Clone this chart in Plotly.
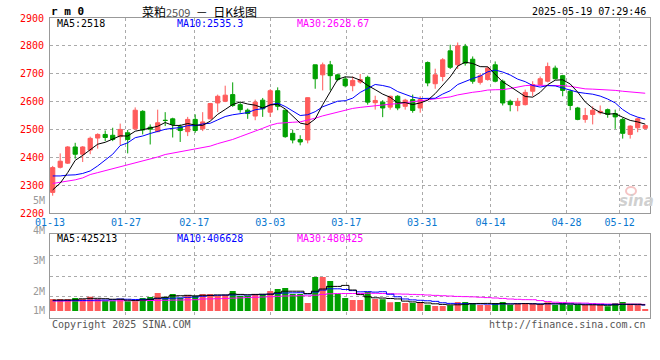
import plotly.graph_objects as go
import pandas as pd

# ---------------- data ----------------
tick_labels = ["01-13", "01-27", "02-17", "03-03", "03-17", "03-31", "04-14", "04-28", "05-12"]
tick_index = [0, 10, 19, 29, 39, 49, 58, 68, 75]

opens = [2274, 2364, 2379, 2437, 2411, 2426, 2469, 2482, 2479, 2474,
         2488, 2502, 2565, 2508, 2492, 2533, 2538, 2510, 2492, 2536,
         2502, 2538, 2595, 2601, 2625, 2589, 2569, 2548, 2605, 2562,
         2639, 2569, 2486, 2464, 2462, 2732, 2696, 2732, 2696, 2681,
         2657, 2670, 2687, 2596, 2598, 2580, 2619, 2583, 2607, 2577,
         2740, 2664, 2690, 2782, 2732, 2798, 2752, 2669, 2679, 2732,
         2673, 2601, 2586, 2589, 2637, 2661, 2673, 2720, 2693, 2637,
         2577, 2536, 2554, 2560, 2571, 2557, 2536, 2482, 2506, 2504]
closes = [2363, 2386, 2437, 2411, 2437, 2468, 2482, 2471, 2464, 2500,
          2464, 2569, 2498, 2501, 2524, 2532, 2518, 2496, 2536, 2496,
          2527, 2593, 2619, 2623, 2586, 2571, 2557, 2598, 2574, 2639,
          2583, 2474, 2462, 2455, 2614, 2682, 2732, 2693, 2679, 2657,
          2676, 2679, 2598, 2604, 2577, 2619, 2577, 2605, 2568, 2607,
          2667, 2696, 2750, 2723, 2800, 2738, 2673, 2693, 2720, 2673,
          2595, 2589, 2601, 2633, 2661, 2682, 2726, 2682, 2640, 2586,
          2536, 2550, 2569, 2565, 2554, 2545, 2486, 2512, 2538, 2514]
highs = [2369, 2414, 2440, 2452, 2440, 2474, 2486, 2496, 2506, 2521,
         2498, 2579, 2569, 2518, 2571, 2562, 2542, 2518, 2545, 2554,
         2562, 2595, 2625, 2657, 2669, 2598, 2575, 2607, 2613, 2645,
         2651, 2571, 2498, 2479, 2615, 2732, 2740, 2746, 2700, 2690,
         2690, 2699, 2693, 2621, 2605, 2621, 2623, 2610, 2625, 2619,
         2744, 2718, 2756, 2804, 2812, 2807, 2762, 2702, 2726, 2744,
         2679, 2607, 2613, 2643, 2673, 2690, 2740, 2729, 2696, 2643,
         2581, 2577, 2583, 2586, 2575, 2571, 2542, 2515, 2542, 2518]
lows = [2262, 2360, 2376, 2395, 2383, 2411, 2431, 2458, 2458, 2443,
        2414, 2500, 2482, 2446, 2490, 2512, 2471, 2455, 2476, 2488,
        2494, 2536, 2562, 2598, 2581, 2560, 2538, 2533, 2545, 2545,
        2569, 2470, 2450, 2443, 2450, 2646, 2640, 2640, 2673, 2651,
        2637, 2664, 2589, 2571, 2544, 2571, 2569, 2571, 2560, 2560,
        2655, 2646, 2673, 2717, 2717, 2729, 2664, 2661, 2675, 2669,
        2586, 2565, 2565, 2586, 2619, 2657, 2669, 2679, 2619, 2569,
        2533, 2524, 2518, 2554, 2542, 2502, 2467, 2467, 2490, 2500]
volumes = [840000, 840000, 840000, 910000, 840000, 1000000, 840000, 720000, 720000, 840000,
           680000, 680000, 910000, 980000, 1260000, 980000, 1190000, 930000, 1120000, 1070000,
           1190000, 1190000, 1050000, 1120000, 1400000, 1050000, 1050000, 1190000, 1190000, 1400000,
           1540000, 1610000, 1190000, 1190000, 560000, 2380000, 2380000, 2100000, 1190000, 910000,
           770000, 770000, 1330000, 840000, 820000, 610000, 630000, 560000, 560000, 610000,
           440000, 350000, 350000, 400000, 630000, 630000, 560000, 420000, 420000, 560000,
           630000, 420000, 490000, 490000, 490000, 490000, 610000, 420000, 490000, 420000,
           420000, 420000, 420000, 420000, 330000, 560000, 630000, 420000, 420000, 140000]

# moving-average values before full windows are available
ma5_head = [2283, 2307, 2345, 2389]
ma10_head = [2333, 2333, 2336, 2337, 2342, 2351, 2369, 2389, 2411]
ma30_head = [2306, 2310, 2313, 2319, 2326, 2338, 2345, 2352, 2360, 2367,
             2374, 2381, 2386, 2393, 2401, 2410, 2415, 2419, 2424, 2429,
             2435, 2440, 2449, 2456, 2464, 2474, 2485, 2494, 2504]
vma5_head = [760000, 770000, 770000, 780000]
vma10_head = [720000, 720000, 730000, 730000, 740000, 750000, 760000, 770000, 790000]
vma30_head = [700000, 700000, 700000, 705000, 705000, 710000, 710000, 710000, 715000, 715000,
              720000, 725000, 730000, 735000, 740000, 750000, 760000, 770000, 780000, 790000,
              840000, 850000, 860000, 880000, 900000, 920000, 940000, 960000, 980000]

header_ma = ["MA5:2518", "MA10:2535.3", "MA30:2628.67"]
header_vma = ["MA5:425213", "MA10:406628", "MA30:480425"]
vol_axis_labels = ["5M", "4M", "3M", "2M", "1M"]

# ---------------- helpers ----------------
W, H = 660, 360
RED = "#FF5B5B"
GREEN = "#00A000"
BLUE_TXT = "#0A78D0"
MONO = "DejaVu Sans Mono"


def ma(series, n, head):
    s = pd.Series(series, dtype=float).rolling(n).mean().tolist()
    return list(head) + s[len(head):]


def pxp(x):
    return x / W


def pyp(y):
    return 1 - y / H


n = len(closes)
xs = list(range(n))
ma5 = ma(closes, 5, ma5_head)
ma10 = ma(closes, 10, ma10_head)
ma30 = ma(closes, 30, ma30_head)
vma5 = ma(volumes, 5, vma5_head)
vma10 = ma(volumes, 10, vma10_head)
vma30 = ma(volumes, 30, vma30_head)
vcolors = [RED if c >= o else GREEN for o, c in zip(opens, closes)]

X0 = -0.36
XR = [X0, X0 + 80]
tick_pos = [X0 + i * 80 / 79 for i in tick_index]

K = 70000.0  # volume per pixel
vol_range = [-(318.3 - 311) * K, (311 - 234.3) * K]
vol_grid = [(311 - y) * K for y in (255.5, 276.0, 296.5)]

fig = go.Figure()
fig.add_trace(go.Candlestick(
    x=xs, open=opens, high=highs, low=lows, close=closes,
    increasing=dict(line=dict(color=RED, width=1), fillcolor=RED),
    decreasing=dict(line=dict(color=GREEN, width=1), fillcolor=GREEN),
    whiskerwidth=0, hoverinfo="skip", showlegend=False, xaxis="x", yaxis="y"))
for vals, col in ((ma30, "#FF00FF"), (ma10, "#0000FF"), (ma5, "#000000")):
    fig.add_trace(go.Scatter(x=xs, y=vals, mode="lines", line=dict(color=col, width=1),
                             hoverinfo="skip", showlegend=False, xaxis="x", yaxis="y"))

fig.add_trace(go.Bar(x=xs, y=volumes, marker=dict(color=vcolors, line=dict(width=0)),
                     width=0.8, hoverinfo="skip", showlegend=False, xaxis="x2", yaxis="y2"))
for vals, col in ((vma30, "#FF00FF"), (vma10, "#0000FF"), (vma5, "#000000")):
    fig.add_trace(go.Scatter(x=xs, y=vals, mode="lines", line=dict(color=col, width=1, shape="hvh"),
                             hoverinfo="skip", showlegend=False, xaxis="x2", yaxis="y2"))

axis_common = dict(showline=True, mirror=True, linecolor="#999999", linewidth=1,
                   showgrid=True, gridcolor="#AAAAAA", griddash="dot", gridwidth=1,
                   zeroline=False, ticks="", fixedrange=True, automargin=False)

fig.update_layout(
    template="none",
    width=W, height=H, margin=dict(l=0, r=0, t=0, b=0, pad=0), autosize=False,
    paper_bgcolor="white", plot_bgcolor="white",
    boxgap=0.2, bargap=0.2,
    xaxis=dict(domain=[pxp(50), pxp(650)], range=XR, anchor="y",
               tickmode="array", tickvals=tick_pos, ticktext=tick_labels,
               tickfont=dict(family=MONO, size=10, color=BLUE_TXT),
               rangeslider=dict(visible=False), **axis_common),
    yaxis=dict(domain=[pyp(213), pyp(18)], range=[2200, 2900], anchor="x",
               tickmode="array", tickvals=list(range(2200, 2901, 100)),
               tickfont=dict(family=MONO, size=10, color="#FF0000"),
               ticklabelstandoff=3, **axis_common),
    xaxis2=dict(domain=[pxp(50), pxp(650)], range=XR, anchor="y2",
                tickmode="array", tickvals=tick_pos, showticklabels=False,
                rangeslider=dict(visible=False), **axis_common),
    yaxis2=dict(domain=[pyp(318.3), pyp(234.3)], range=vol_range, anchor="x2",
                tickmode="array", tickvals=vol_grid, showticklabels=False, **axis_common),
)

ann = []


def text(x, y, s, color="#000000", size=10, xanchor="left", family=MONO, **kw):
    ann.append(dict(x=pxp(x), y=pyp(y), xref="paper", yref="paper", text=s, showarrow=False,
                    xanchor=xanchor, yanchor="middle", font=dict(family=family, size=size, color=color), **kw))


text(49, 12, "<b>r m 0</b>", size=11)
text(140, 12, "菜粕<span style='color:#555555;font-size:11px'>2509</span>  －  日K线图",
     size=12, family="Noto Sans CJK SC")
text(648, 12, "2025-05-19 07:29:46", xanchor="right", size=10)

ma_cols = ["#000000", "#0000FF", "#FF00FF"]
for s, c, xx in zip(header_ma, ma_cols, (55, 175, 295)):
    text(xx, 24, s, color=c)
for s, c, xx in zip(header_vma, ma_cols, (55, 175, 295)):
    text(xx, 238.5, s, color=c)

for s, yy in zip(vol_axis_labels, (200.7, 230.5, 260.5, 291.0, 310.5)):
    text(47, yy, s, color="#999999", xanchor="right")

text(50, 324, "Copyright 2025 SINA.COM", color="#555555")
text(648, 324, "http://finance.sina.com.cn", color="#555555", xanchor="right")

# sina watermark
text(636, 201, "<b><i>sina</i></b>", color="#D0D0D0", size=15, xanchor="center", family="DejaVu Sans")
fig.add_shape(type="circle", xref="paper", yref="paper",
              x0=pxp(626), x1=pxp(636), y0=pyp(195), y1=pyp(187),
              line=dict(color="#F5C4C4", width=2))

fig.update_layout(annotations=ann)
fig.write_html("out.html", config={"responsive": False, "displayModeBar": False},
               post_script="document.body.style.margin='0';document.body.style.padding='0';")
